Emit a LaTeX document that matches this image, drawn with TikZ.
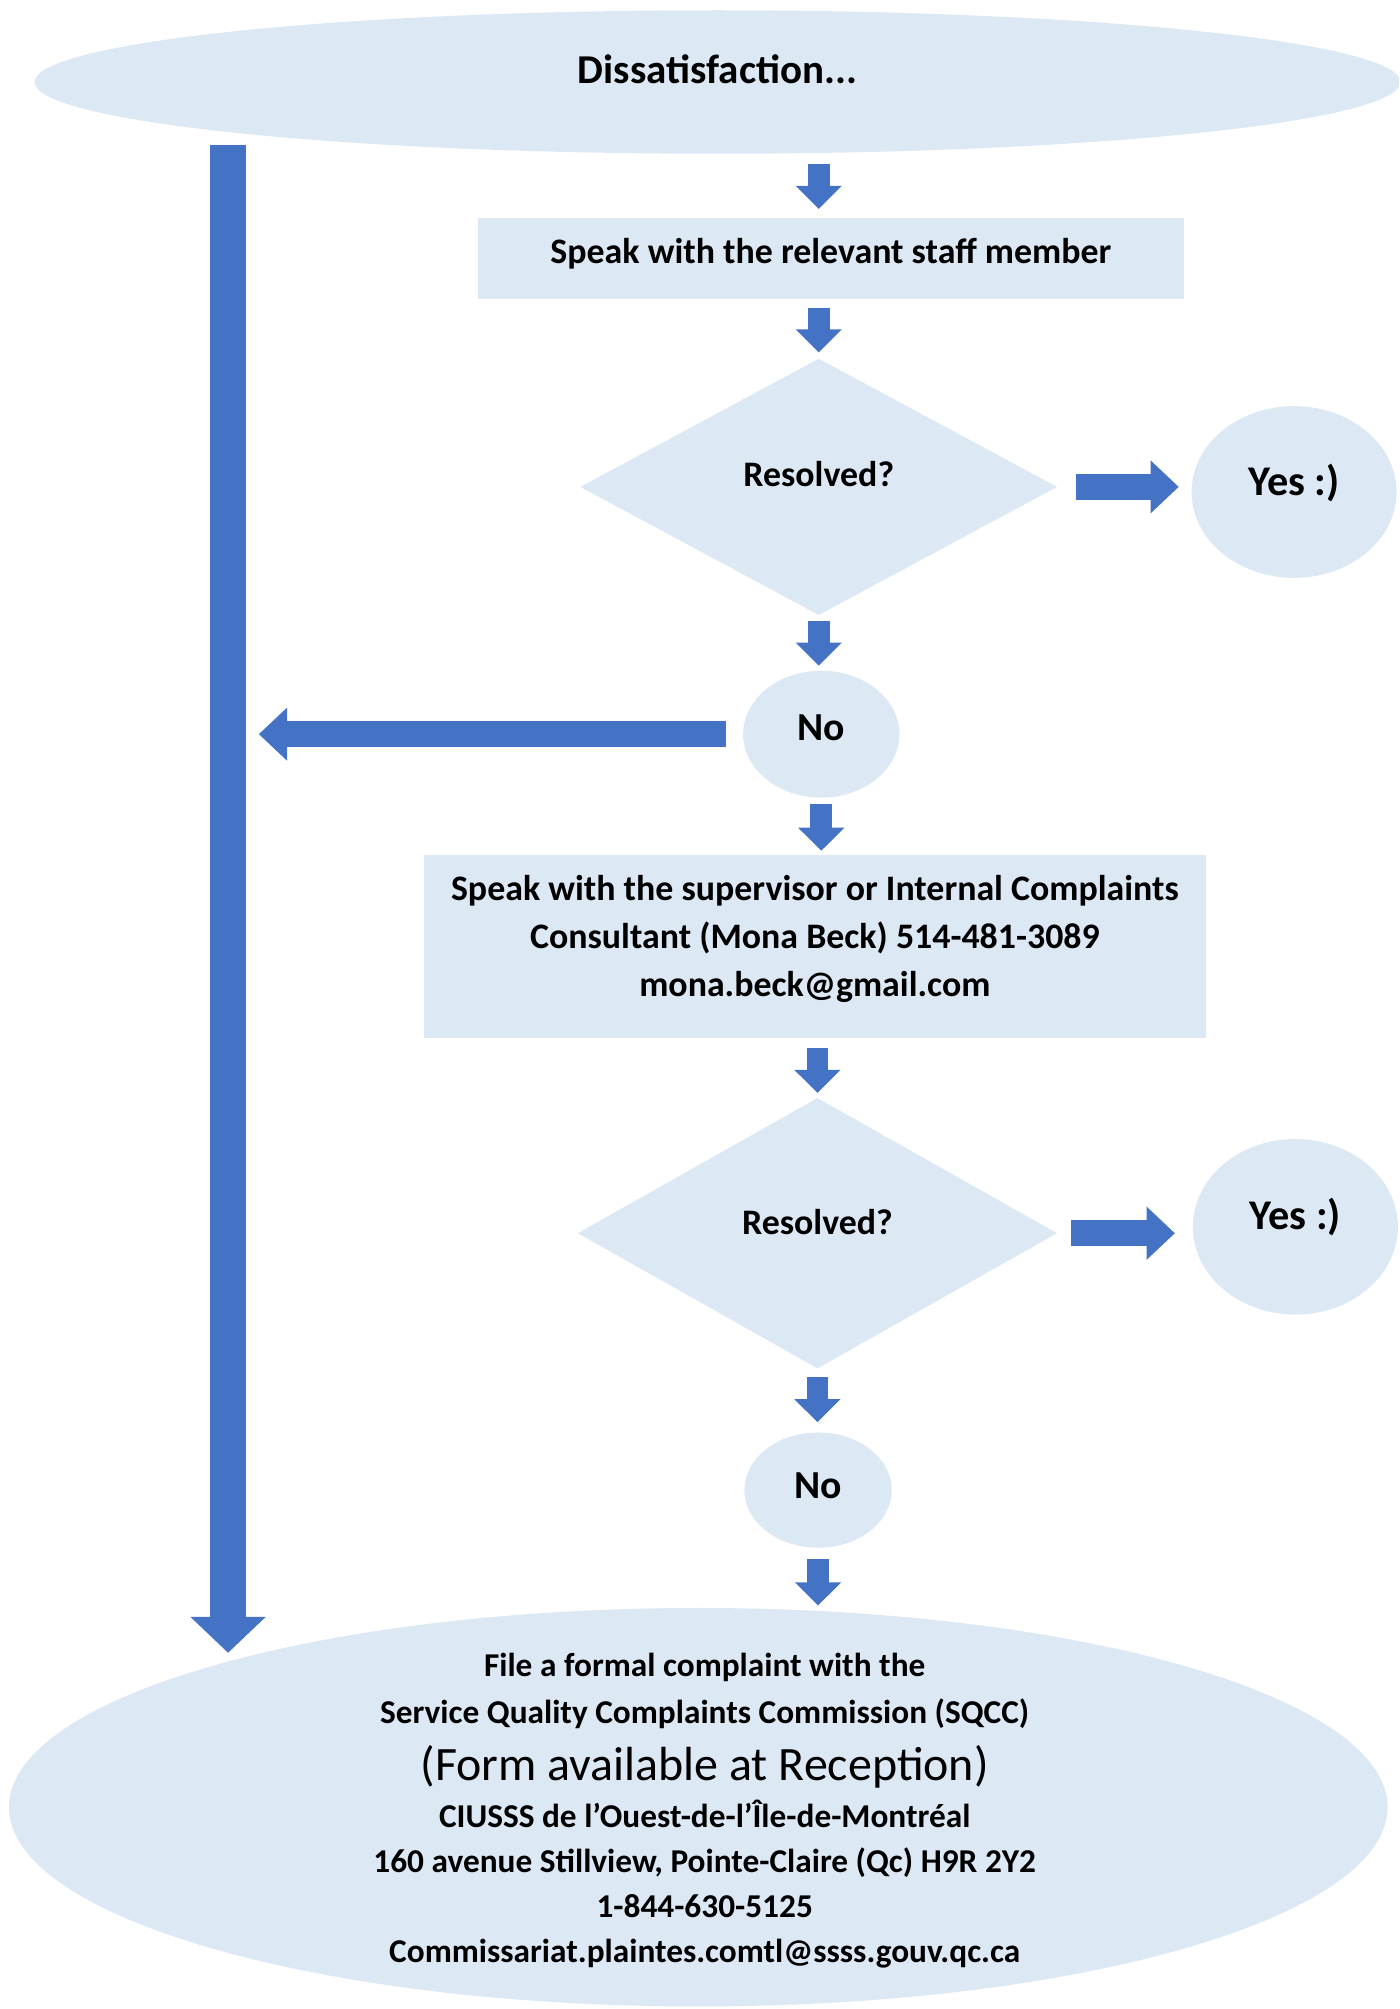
\documentclass[tikz,border=0pt]{standalone}
\usepackage{fontspec}
\setmainfont{Carlito}
\usetikzlibrary{shapes.geometric,arrows.meta}
\definecolor{lb}{HTML}{DDE8F5}
\definecolor{ab}{HTML}{4472C4}
\tikzset{
  shp/.style={fill=lb, draw=none, inner sep=0pt, outer sep=0pt, font=\bfseries},
  lift/.style 2 args={text height=#1, text depth=#2},
  sarrow/.style={draw=ab, line width=8.5pt, -{Triangle[length=9pt,width=17.5pt]}},
  harrow/.style={draw=ab, line width=10pt, -{Triangle[length=11pt,width=20pt]}},
  bigarrow/.style={draw=ab, line width=14pt, -{Triangle[length=14pt,width=28.5pt]}},
  txt/.style={inner sep=0pt, outer sep=0pt, align=center, font=\bfseries}
}
\begin{document}
\begin{tikzpicture}[x=0.5pt,y=-0.5pt]
\useasboundingbox (0,0) rectangle (1092,1568);
\clip (0,0) rectangle (1092,1568);

% shapes
\node[shp, ellipse, minimum width=533pt, minimum height=56pt,
      font=\bfseries\fontsize{16}{19}\selectfont, lift={10pt}{9pt}] (dis) at (560,64) {Dissatisfaction...};
\node[shp, rectangle, minimum width=275.5pt, minimum height=31.5pt,
      font=\bfseries\fontsize{14}{17}\selectfont, lift={9pt}{4.5pt}] (box1) at (648.5,201.5) {Speak with the relevant staff member};
\node[shp, diamond, minimum width=186pt, minimum height=100pt,
      font=\bfseries\fontsize{14}{17}\selectfont, lift={9pt}{9pt}] (d1) at (639,380) {Resolved?};
\node[shp, ellipse, minimum width=80pt, minimum height=67pt,
      font=\bfseries\fontsize{16.5}{19}\selectfont, lift={10.4pt}{8pt}] (yes1) at (1010,384) {Yes :)};
\node[shp, ellipse, minimum width=61pt, minimum height=49.5pt,
      font=\bfseries\fontsize{15.5}{18}\selectfont, lift={9.8pt}{5pt}] (no1) at (641,573) {No};
\node[shp, rectangle, minimum width=305pt, minimum height=71.5pt] (box2) at (636,738.5) {};
\node[txt, font=\bfseries\fontsize{14}{18.75}\selectfont] (box2text) at (636,732.5)
  {Speak with the supervisor or Internal Complaints\\Consultant (Mona Beck) 514-481-3089\\mona.beck@gmail.com};
\node[shp, diamond, minimum width=187pt, minimum height=105.5pt,
      font=\bfseries\fontsize{14}{17}\selectfont, lift={9pt}{8pt}] (d2) at (638,962.5) {Resolved?};
\node[shp, ellipse, minimum width=80pt, minimum height=68.5pt,
      font=\bfseries\fontsize{16.5}{19}\selectfont, lift={10.4pt}{8pt}] (yes2) at (1011,957.5) {Yes :)};
\node[shp, ellipse, minimum width=57.5pt, minimum height=45pt,
      font=\bfseries\fontsize{15.5}{18}\selectfont, lift={9.8pt}{3pt}] (no2) at (638.5,1163) {No};
\node[shp, ellipse, minimum width=538pt, minimum height=155.5pt] (file) at (545,1410.5) {};
\node[txt, font=\bfseries\fontsize{13}{17.5}\selectfont] (filetext) at (550,1413)
  {File a formal complaint with the\\[1pt]
   Service Quality Complaints Commission (SQCC)\\[4.5pt]
   {\mdseries\fontsize{18.7}{18.7}\selectfont (Form available at Reception)}\\[1pt]
   CIUSSS de l’Ouest-de-l’Île-de-Montréal\\
   160 avenue Stillview, Pointe-Claire (Qc) H9R 2Y2\\
   1-844-630-5125\\
   Commissariat.plaintes.comtl@ssss.gouv.qc.ca};

% free ends of the long connectors
\coordinate (bigtop) at (178,113);
\coordinate (bigtip) at (178,1290);
\coordinate (lefttip) at (202,573);

% small down arrows
\draw[sarrow, shorten <=4pt, shorten >=3.5pt] (dis.south -| d1.north) -- (d1.north |- box1.north);
\draw[sarrow, shorten <=3.5pt, shorten >=2.5pt] (d1.north |- box1.south) -- (d1.north);
\draw[sarrow, shorten <=2.5pt, shorten >=2pt] (d1.south) -- (d1.south |- no1.north);
\draw[sarrow, shorten <=2.5pt, shorten >=1.5pt] (no1.south) -- (no1.south |- box2.north);
\draw[sarrow, shorten <=4pt, shorten >=2pt] (d2.north |- box2.south) -- (d2.north);
\draw[sarrow, shorten <=3.5pt, shorten >=4pt] (d2.south) -- (d2.south |- no2.north);
\draw[sarrow, shorten <=4.5pt, shorten >=1pt] (no2.south) -- (no2.south |- file.north);

% horizontal arrows
\draw[harrow, shorten <=7.5pt, shorten >=5pt] (d1.east) -- (d1.east -| yes1.west);
\draw[harrow, shorten <=5.5pt, shorten >=7pt] (d2.east) -- (d2.east -| yes2.west);
\draw[harrow, shorten <=6.5pt] (no1.west) -- (lefttip);

% long left arrow
\draw[bigarrow] (bigtop) -- (bigtip);
\end{tikzpicture}
\end{document}
